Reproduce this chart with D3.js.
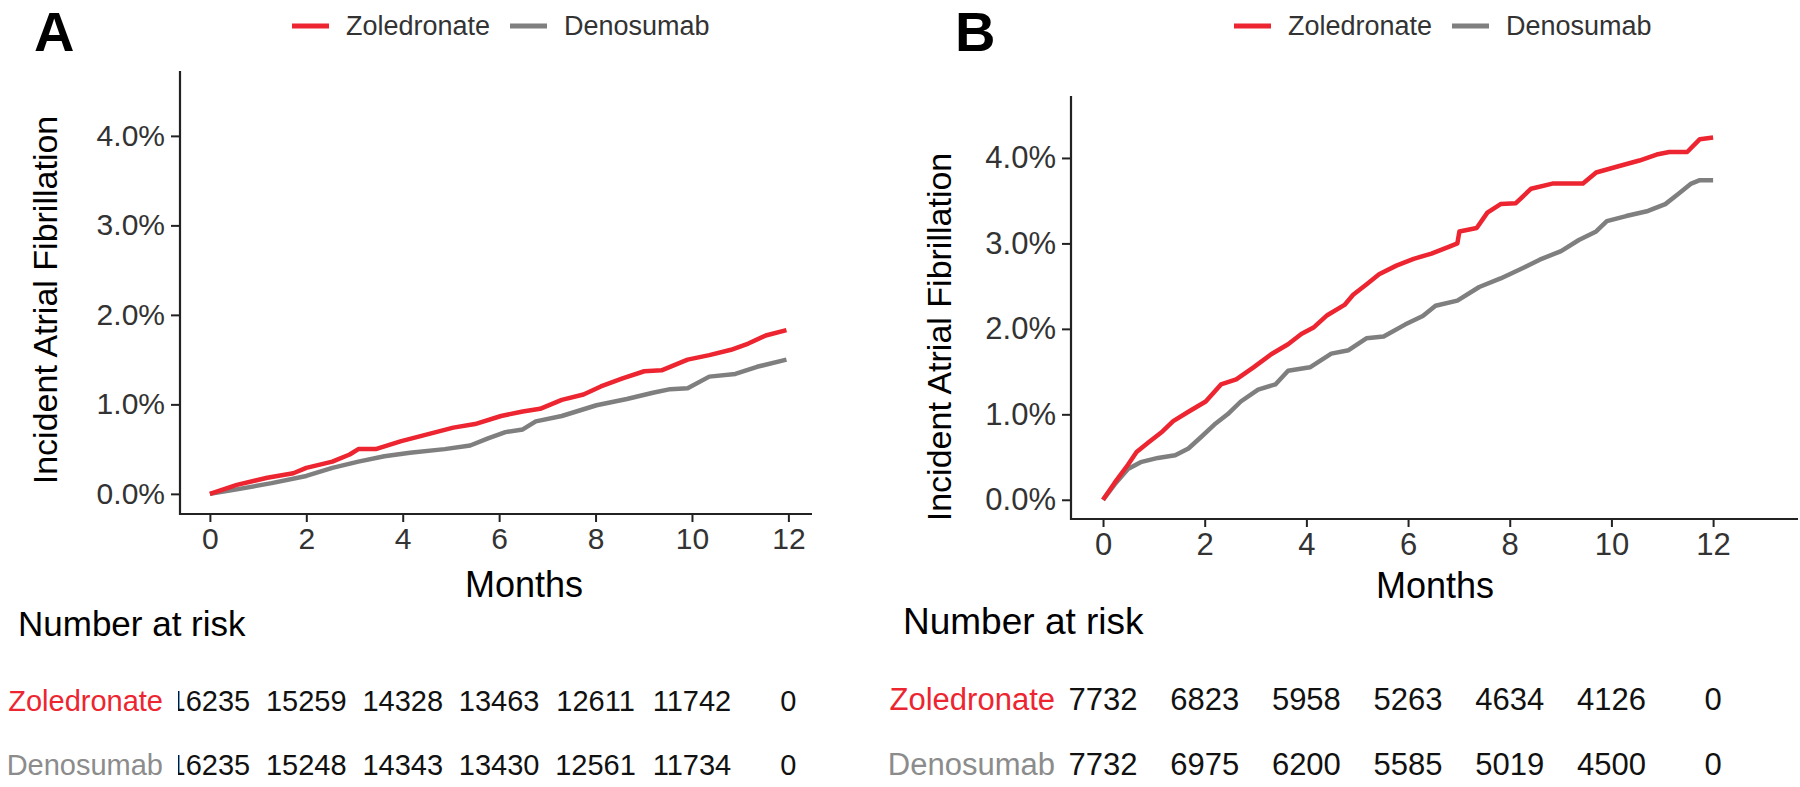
<!DOCTYPE html>
<html>
<head>
<meta charset="utf-8">
<script src="https://cdn.jsdelivr.net/npm/d3@7/dist/d3.min.js"></script>
<style>
  html, body { margin: 0; padding: 0; background: #fff; }
  svg { display: block; font-family: "Liberation Sans", Arial, sans-serif; }
</style>
</head>
<body>
<svg id="chart" width="1800" height="787"></svg>
<script>
// ---- data ----
var groups = ["Zoledronate", "Denosumab"];
var monthTicks = [0, 2, 4, 6, 8, 10, 12];
var pctTicks = [0, 1, 2, 3, 4];

// panel A: [month, cumulative incidence %]
var aZol = [[0,0],[0.56,0.10],[1.19,0.18],[1.73,0.23],[2.0,0.29],[2.54,0.36],[2.9,0.44],[3.08,0.50],
  [3.44,0.50],[3.97,0.59],[4.33,0.64],[5.05,0.74],[5.5,0.78],[6.04,0.87],[6.49,0.92],[6.85,0.95],
  [7.3,1.05],[7.75,1.11],[8.11,1.20],[8.56,1.29],[9.01,1.37],[9.37,1.38],[9.91,1.50],[10.36,1.55],
  [10.81,1.61],[11.17,1.68],[11.53,1.77],[11.96,1.83]];
var aDen = [[0,0],[0.56,0.05],[1.28,0.12],[2.0,0.20],[2.54,0.29],[3.08,0.36],[3.62,0.42],[4.15,0.46],
  [4.87,0.50],[5.4,0.54],[5.77,0.62],[6.13,0.69],[6.49,0.72],[6.76,0.81],[7.3,0.87],[8.02,0.99],
  [8.65,1.06],[9.19,1.13],[9.55,1.17],[9.91,1.18],[10.36,1.31],[10.9,1.34],[11.35,1.42],[11.96,1.50]];

// panel B
var bZol = [[0,0],[0.23,0.20],[0.49,0.41],[0.66,0.56],[0.91,0.68],[1.17,0.80],[1.38,0.92],[1.68,1.03],
  [2.02,1.15],[2.32,1.35],[2.62,1.41],[2.96,1.55],[3.3,1.70],[3.64,1.82],[3.9,1.94],[4.15,2.02],
  [4.41,2.16],[4.75,2.28],[4.92,2.40],[5.18,2.52],[5.43,2.64],[5.77,2.74],[6.11,2.82],[6.46,2.88],
  [6.8,2.96],[6.97,3.0],[7.01,3.14],[7.35,3.18],[7.56,3.36],[7.82,3.46],[8.12,3.47],[8.42,3.64],
  [8.84,3.70],[9.44,3.70],[9.7,3.83],[10.12,3.90],[10.55,3.97],[10.89,4.04],[11.14,4.07],[11.49,4.07],
  [11.74,4.22],[12.0,4.24]];
var bDen = [[0,0],[0.23,0.18],[0.49,0.36],[0.74,0.44],[1.08,0.49],[1.42,0.52],[1.68,0.60],[1.94,0.74],
  [2.19,0.88],[2.45,1.0],[2.71,1.15],[3.05,1.29],[3.39,1.35],[3.64,1.51],[4.07,1.55],[4.49,1.71],
  [4.83,1.75],[5.18,1.89],[5.52,1.91],[5.94,2.05],[6.29,2.15],[6.54,2.27],[6.97,2.33],[7.4,2.49],
  [7.82,2.59],[8.25,2.71],[8.59,2.81],[9.01,2.91],[9.36,3.04],[9.7,3.14],[9.91,3.26],[10.29,3.32],
  [10.72,3.38],[11.06,3.46],[11.32,3.58],[11.57,3.70],[11.74,3.74],[12.0,3.74]];

// number at risk
var riskAZol = [16235, 15259, 14328, 13463, 12611, 11742, 0];
var riskADen = [16235, 15248, 14343, 13430, 12561, 11734, 0];
var riskBZol = [7732, 6823, 5958, 5263, 4634, 4126, 0];
var riskBDen = [7732, 6975, 6200, 5585, 5019, 4500, 0];

var colors = { Zoledronate: "#ec2530", Denosumab: "#7f7f7f" };
var labelColors = { Zoledronate: "#ec2530", Denosumab: "#8c8c8c" };

var svg = d3.select("#chart");
var fmt = function (d) { return d.toFixed(1) + "%"; };

function drawPanel(p) {
  var g = svg.append("g");
  var x = d3.scaleLinear().domain(p.xDomain).range([p.left, p.right]);
  var y = d3.scaleLinear().domain([-0.225, 4.725]).range([p.bottom, p.top]);

  // panel letter
  g.append("text").attr("x", p.letterX).attr("y", 51)
    .attr("font-size", 56).attr("font-weight", "bold").attr("fill", "#000").text(p.letter);

  // legend
  var leg = g.append("g").attr("transform", "translate(0,26)");
  groups.forEach(function (name, i) {
    leg.append("line").attr("x1", p.legX[i]).attr("x2", p.legX[i] + 37)
      .attr("y1", 0).attr("y2", 0).attr("stroke", colors[name]).attr("stroke-width", 5);
    leg.append("text").attr("x", p.legX[i] + 54).attr("y", 0).attr("dy", "0.35em")
      .attr("font-size", 27).attr("fill", "#333").text(name);
  });

  // axes
  var yAxis = d3.axisLeft(y).tickValues(pctTicks).tickFormat(fmt).tickSize(9).tickPadding(6);
  var gy = g.append("g").attr("transform", "translate(" + p.left + ",0)").call(yAxis);
  var xAxis = d3.axisBottom(x).tickValues(monthTicks).tickSize(8).tickPadding(6);
  var gx = g.append("g").attr("transform", "translate(0," + p.bottom + ")").call(xAxis);
  [gy, gx].forEach(function (ax) {
    ax.select(".domain").remove();
    ax.selectAll(".tick line").attr("stroke", "#222").attr("stroke-width", 2);
    ax.selectAll(".tick text").attr("font-size", p.tickSize).attr("fill", "#333")
      .attr("font-family", "Liberation Sans, Arial, sans-serif");
  });
  g.append("line").attr("x1", p.left).attr("x2", p.left).attr("y1", p.top).attr("y2", p.bottom + 1)
    .attr("stroke", "#222").attr("stroke-width", 2.2);
  g.append("line").attr("x1", p.left - 1).attr("x2", p.right).attr("y1", p.bottom).attr("y2", p.bottom)
    .attr("stroke", "#222").attr("stroke-width", 2.2);

  // axis titles
  g.append("text").attr("transform", "translate(" + p.yTitleX + "," + p.yTitleY + ") rotate(-90)")
    .attr("text-anchor", "middle").attr("font-size", 34).attr("fill", "#000")
    .text("Incident Atrial Fibrillation");
  g.append("text").attr("x", p.monthsX).attr("y", p.monthsY).attr("text-anchor", "middle")
    .attr("font-size", 36).attr("fill", "#000").text("Months");

  // curves
  var line = d3.line().x(function (d) { return x(d[0]); }).y(function (d) { return y(d[1]); });
  [p.den, p.zol].forEach(function (s, i) {
    var name = i === 0 ? "Denosumab" : "Zoledronate";
    g.append("path").attr("d", line(s)).attr("fill", "none")
      .attr("stroke", colors[name]).attr("stroke-width", 4.5).attr("stroke-linejoin", "round");
  });

  // risk table
  g.append("text").attr("x", p.nrX).attr("y", p.nrY).attr("font-size", p.nrSize)
    .attr("fill", "#000").text("Number at risk");
  var clipId = "clip" + p.letter;
  svg.append("clipPath").attr("id", clipId).append("rect")
    .attr("x", p.clipX).attr("y", 640).attr("width", 1000).attr("height", 160);
  var rows = [p.riskZol, p.riskDen];
  groups.forEach(function (name, i) {
    g.append("text").attr("x", p.labelRight).attr("y", p.rowY[i]).attr("dy", "0.35em")
      .attr("text-anchor", "end").attr("font-size", p.tableSize)
      .attr("fill", labelColors[name]).text(name);
    g.append("g").attr("clip-path", "url(#" + clipId + ")")
      .selectAll("text").data(rows[i]).enter().append("text")
      .attr("x", function (d, j) { return x(monthTicks[j]); })
      .attr("y", p.rowY[i]).attr("dy", "0.35em").attr("text-anchor", "middle")
      .attr("font-size", p.tableSize).attr("fill", "#111")
      .text(function (d) { return d; });
  });
}

drawPanel({
  letter: "A", letterX: 34, legX: [292, 510],
  left: 180, right: 812, top: 71, bottom: 514, xDomain: [-0.62, 12.49],
  tickSize: 30, yTitleX: 57, yTitleY: 300, monthsX: 524, monthsY: 597,
  zol: aZol, den: aDen,
  nrX: 18, nrY: 636, nrSize: 35, labelRight: 163, clipX: 178,
  rowY: [701, 765], tableSize: 29, riskZol: riskAZol, riskDen: riskADen
});

drawPanel({
  letter: "B", letterX: 955, legX: [1234, 1452],
  left: 1071, right: 1798, top: 96, bottom: 519, xDomain: [-0.63, 13.67],
  tickSize: 31, yTitleX: 951, yTitleY: 337, monthsX: 1435, monthsY: 598,
  zol: bZol, den: bDen,
  nrX: 903, nrY: 634, nrSize: 37, labelRight: 1055, clipX: 1058,
  rowY: [699, 764], tableSize: 31, riskZol: riskBZol, riskDen: riskBDen
});
</script>
</body>
</html>
